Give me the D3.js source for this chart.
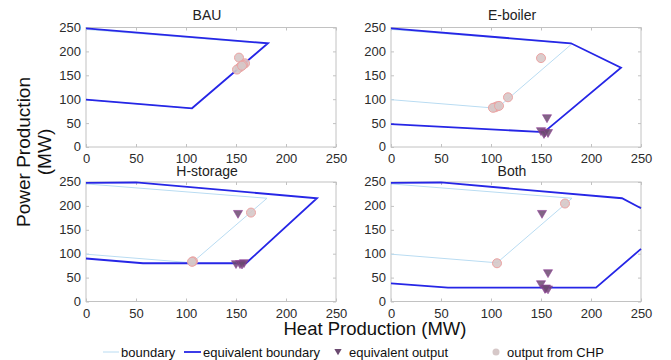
<!DOCTYPE html>
<head>
    <meta charset="utf-8">
    <script src="https://d3js.org/d3.v7.min.js"></script>
    <style>
        body { margin: 0; background: #fff; }
        svg { font-family: "Liberation Sans", Arial, sans-serif; }
    </style>
</head>
<body>
<script>
    // chart data
    const panelTitles = ["BAU", "E-boiler", "H-storage", "Both"];
    const xTicks = [0, 50, 100, 150, 200, 250];
    const yTicks = [0, 50, 100, 150, 200, 250];

    // thin CHP boundary (same in every panel)
    const chpBoundary = [[0, 246], [181, 216], [106, 81], [0, 99]];

    // equivalent boundaries, one or more polylines per panel
    const eqBoundaryBAU = [[[0, 248], [182, 217], [106, 81], [0, 99]]];
    const eqBoundaryEboiler = [[[0, 248], [180, 217], [230, 166], [153, 31], [0, 48]]];
    const eqBoundaryHstorage = [[[0, 248], [50, 249], [231, 216], [160, 80], [57, 80], [0, 90]]];
    const eqBoundaryBoth = [[[0, 248], [50, 249], [231, 216], [250, 195]],
                            [[250, 110], [205, 29], [57, 29], [0, 38]]];

    // output from CHP
    const chpBAU = [[153, 187], [159, 175], [157, 172], [154, 167], [151, 162], [156, 170]];
    const chpEboiler = [[150, 186], [117, 104], [106, 85], [104, 83], [102, 82], [108, 86]];
    const chpHstorage = [[165, 186], [107, 84], [106, 83]];
    const chpBoth = [[174, 205], [106, 80]];

    // equivalent output
    const eqOutBAU = [];
    const eqOutEboiler = [[156, 62], [150, 35], [154, 32], [153, 29], [157, 31]];
    const eqOutHstorage = [[152, 185], [150, 80], [154, 80], [158, 82], [156, 79]];
    const eqOutBoth = [[151, 185], [157, 61], [150, 38], [154, 28], [157, 27], [155, 29]];

    const eqBoundaries = [eqBoundaryBAU, eqBoundaryEboiler, eqBoundaryHstorage, eqBoundaryBoth];
    const chpOutputs = [chpBAU, chpEboiler, chpHstorage, chpBoth];
    const eqOutputs = [eqOutBAU, eqOutEboiler, eqOutHstorage, eqOutBoth];

    const W = 671, H = 360,
        pw = 250, ph = 119.5,
        lefts = [86, 391], tops = [27.5, 182];

    const svg = d3.select("body").append("svg")
        .attr("width", W).attr("height", H);

    const x = d3.scaleLinear().domain([0, 250]).range([0, pw]),
        y = d3.scaleLinear().domain([0, 250]).range([ph, 0]),
        line = d3.line().x(d => x(d[0])).y(d => y(d[1]));

    const tri = d3.symbol().type(d3.symbolTriangle).size(36);

    panelTitles.forEach(function (title, i) {
        const row = Math.floor(i / 2);
        const g = svg.append("g")
            .attr("transform", `translate(${lefts[i % 2]},${tops[row]})`);

        // frame
        g.append("rect")
            .attr("width", pw).attr("height", ph)
            .attr("fill", "none").attr("stroke", "#c2c2c2");

        // axes, ticks pointing in
        const xa = g.append("g").attr("transform", `translate(0,${ph})`)
            .call(d3.axisBottom(x).tickValues(xTicks).tickSizeInner(-3).tickSizeOuter(0).tickPadding(5));
        const xt = g.append("g")
            .call(d3.axisTop(x).tickValues(xTicks).tickSizeInner(-3).tickSizeOuter(0).tickFormat(""));
        const ya = g.append("g")
            .call(d3.axisLeft(y).tickValues(yTicks).tickSizeInner(-3).tickSizeOuter(0).tickPadding(5));
        const yr = g.append("g").attr("transform", `translate(${pw},0)`)
            .call(d3.axisRight(y).tickValues(yTicks).tickSizeInner(-3).tickSizeOuter(0).tickFormat(""));
        [xa, xt, ya, yr].forEach(a => {
            a.select(".domain").remove();
            a.selectAll("line").attr("stroke", "#c2c2c2");
            a.selectAll("text").attr("fill", "#2b2b2b").attr("font-size", 13);
        });
        xa.selectAll("text").attr("dy", "0.85em");
        ya.selectAll("text").attr("dy", "0.3em");

        g.append("text")
            .attr("x", pw / 2 - 4).attr("y", row ? -6 : -8)
            .attr("text-anchor", "middle")
            .attr("font-size", 14)
            .attr("fill", "#222")
            .text(title);

        const clipId = "clip" + i;
        g.append("clipPath").attr("id", clipId)
            .append("rect").attr("x", -2).attr("y", -2).attr("width", pw + 4).attr("height", ph + 4);

        const plot = g.append("g").attr("clip-path", `url(#${clipId})`);

        plot.append("path")
            .attr("d", line(chpBoundary))
            .attr("fill", "none")
            .attr("stroke", "#b9dcf2")
            .attr("stroke-width", 1);

        plot.selectAll("path.eq")
            .data(eqBoundaries[i])
            .enter().append("path")
            .attr("class", "eq")
            .attr("d", d => line(d))
            .attr("fill", "none")
            .attr("stroke", "#2626e6")
            .attr("stroke-width", 1.8);

        plot.selectAll("path.tri")
            .data(eqOutputs[i])
            .enter().append("path")
            .attr("class", "tri")
            .attr("d", tri)
            .attr("transform", d => `translate(${x(d[0])},${y(d[1])}) rotate(180)`)
            .attr("fill", "#6b4a70")
            .attr("fill-opacity", 0.85)
            .attr("stroke", "#93409a")
            .attr("stroke-opacity", 0.6);

        plot.selectAll("circle")
            .data(chpOutputs[i])
            .enter().append("circle")
            .attr("cx", d => x(d[0]))
            .attr("cy", d => y(d[1]))
            .attr("r", 4.5)
            .attr("fill", "#d6c8c8")
            .attr("fill-opacity", 0.9)
            .attr("stroke", "#eca3a3")
            .attr("stroke-width", 1);
    });

    // axis titles
    svg.append("text")
        .attr("x", 375).attr("y", 335)
        .attr("text-anchor", "middle")
        .attr("font-size", 18.5)
        .attr("fill", "#111")
        .text("Heat Production (MW)");

    const yl = svg.append("text")
        .attr("transform", "translate(30,152) rotate(-90)")
        .attr("text-anchor", "middle")
        .attr("font-size", 19)
        .attr("fill", "#111");
    yl.append("tspan").attr("x", 0).attr("y", 0).text("Power Production");
    yl.append("tspan").attr("x", 0).attr("y", 21).text("(MW)");

    // legend
    const lg = svg.append("g").attr("transform", "translate(0,352)").attr("font-size", 13);
    lg.append("line").attr("x1", 103).attr("x2", 119).attr("stroke", "#b9dcf2");
    lg.append("text").attr("x", 121).attr("dy", "0.35em").text("boundary");
    lg.append("line").attr("x1", 184).attr("x2", 201).attr("stroke", "#2626e6").attr("stroke-width", 1.8);
    lg.append("text").attr("x", 203).attr("dy", "0.35em").text("equivalent boundary");
    lg.append("path").attr("d", tri).attr("transform", "translate(338,-1) rotate(180) scale(0.8)")
        .attr("fill", "#6b4a70");
    lg.append("text").attr("x", 349).attr("dy", "0.35em").text("equivalent output");
    lg.append("circle").attr("cx", 496).attr("cy", 0).attr("r", 3.5).attr("fill", "#d6c8c8");
    lg.append("text").attr("x", 507).attr("dy", "0.35em").text("output from CHP");
    lg.selectAll("text").attr("fill", "#111");
</script>
</body>
